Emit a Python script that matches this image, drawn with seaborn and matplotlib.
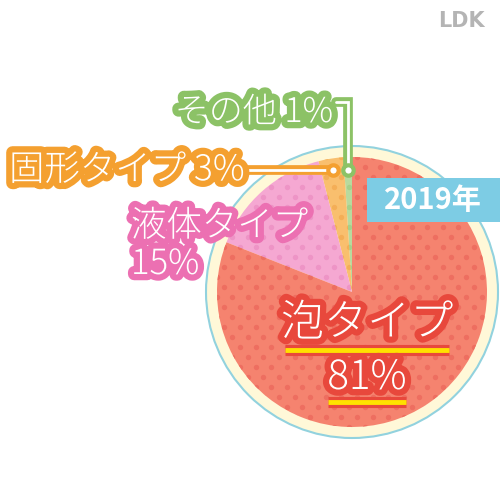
import numpy as np
import matplotlib
matplotlib.use("Agg")
import matplotlib.pyplot as plt
import matplotlib.patheffects as pe
from matplotlib.patches import Circle, Rectangle
import seaborn as sns

# data
labels = ["その他", "固形タイプ", "液体タイプ", "泡タイプ"]
shares = [1, 3, 15, 81]
year = "2019年"
wedge_colors = ["#B8DA9E", "#F9BF6E", "#F5A8D2", "#F5836F"]
dot_colors = ["#A6D08A", "#F4AE57", "#EE94C6", "#EE6E60"]
label_colors = ["#8CC266", "#F4A030", "#EC70B2", "#E8483C"]

sns.set_theme(style="white")
plt.rcParams["font.family"] = ["Noto Sans CJK JP", "DejaVu Sans"]

fig = plt.figure(figsize=(5, 5), dpi=100)
ax = fig.add_axes([0, 0, 1, 1])

cx, cy, R = 352, 208, 135
ax.add_patch(Circle((cx, cy), 146, facecolor="#FFF8D8", edgecolor="#92D2DE",
                    lw=1.5, zorder=0))
wedges, _ = ax.pie(shares, colors=wedge_colors, startangle=90, counterclock=True,
                   center=(cx, cy), radius=R, wedgeprops=dict(linewidth=0))
ax.set_xlim(0, 500)
ax.set_ylim(0, 500)
ax.set_aspect("equal")
ax.axis("off")

# dotted texture inside each wedge
gx, gy = np.meshgrid(np.arange(cx - R - 16, cx + R + 16, 15.6),
                     np.arange(cy - R - 10, cy + R + 10, 10.0))
gx = gx + (np.arange(gx.shape[0])[:, None] % 2) * 7.8
for w, dc in zip(wedges, dot_colors):
    sc = ax.scatter(gx.ravel(), gy.ravel(), s=15, color=dc, linewidths=0, zorder=2)
    sc.set_clip_path(w)


def outlined(color, width):
    return [pe.Stroke(linewidth=width, foreground=color), pe.Normal()]


# leader lines to the two small slices
line_y = 330
mids = [np.deg2rad(w.theta1 + (w.theta2 - w.theta1) / 2) for w in wedges]
dot_x = [cx + (line_y - cy) / np.tan(m) for m in mids]

# green bracket
ax.plot([336, dot_x[0], dot_x[0]], [398, 398, line_y], color="white", lw=2,
        solid_joinstyle="miter", zorder=5, path_effects=outlined(label_colors[0], 7))
ax.plot([dot_x[0]], [line_y], "o", ms=7.5, mfc="white", mec=label_colors[0], mew=3, zorder=6)
# orange line
ax.plot([244, dot_x[1]], [line_y, line_y], color="white", lw=2, zorder=5,
        path_effects=outlined(label_colors[1], 7))
ax.plot([dot_x[1]], [line_y], "o", ms=7.5, mfc="white", mec=label_colors[1], mew=3, zorder=6)

txt = dict(color="white", zorder=7, fontweight="light")
ax.text(333, 388, f"{labels[0]} {shares[0]}%", ha="right", va="center", fontsize=24.5,
        path_effects=outlined(label_colors[0], 9), **txt)
ax.text(9, 330, f"{labels[1]} {shares[1]}%", ha="left", va="center", fontsize=25.5,
        path_effects=outlined(label_colors[1], 9), **txt)
ax.text(131, 274, labels[2], ha="left", va="center", fontsize=25.5,
        path_effects=outlined(label_colors[2], 9), **txt)
ax.text(131, 236, f"{shares[2]}%", ha="left", va="center", fontsize=25,
        path_effects=outlined(label_colors[2], 9), **txt)

# main slice label with underlines
ax.text(367, 177, labels[3], ha="center", va="center", fontsize=31,
        path_effects=outlined(label_colors[3], 9), **txt)
ax.plot([285, 449], [150, 150], color="#FFE100", lw=3.5, solid_capstyle="butt", zorder=6,
        path_effects=outlined(label_colors[3], 8))
ax.text(367, 122, f"{shares[3]}%", ha="center", va="center", fontsize=29,
        path_effects=outlined(label_colors[3], 9), **txt)
ax.plot([328, 406], [98, 98], color="#FFE100", lw=3.5, solid_capstyle="butt", zorder=6,
        path_effects=outlined(label_colors[3], 8))

# year tag
ax.add_patch(Rectangle((367, 278), 140, 44, facecolor="#7DCCE4", edgecolor="none", zorder=6))
ax.text(433, 300, year, ha="center", va="center", fontsize=21, fontweight="bold",
        color="white", zorder=7)

ax.text(461, 479, "LDK", ha="center", va="center", fontsize=15, fontweight="bold",
        color="#B4B4B4", family="DejaVu Sans")

fig.savefig("out.png", dpi=100, facecolor="white")
